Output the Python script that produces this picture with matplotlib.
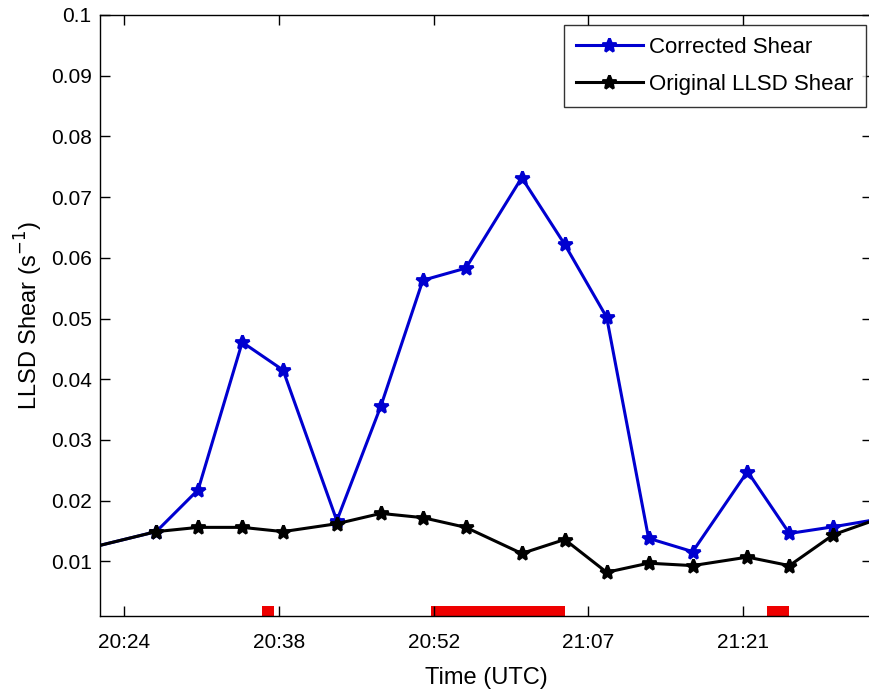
import numpy as np
import matplotlib
matplotlib.use('Agg')
import matplotlib.pyplot as plt

plt.rcParams['font.family'] = ['Liberation Sans', 'DejaVu Sans']

# time in minutes after 20:00 UTC
t = [21.0, 27.0, 30.9, 35.0, 38.8, 43.8, 47.9, 51.8, 55.8, 61.0, 65.0,
     68.9, 72.8, 76.9, 82.0, 85.9, 90.0, 94.0]
corrected = [0.0123, 0.0149, 0.0218, 0.0461, 0.0415, 0.0167, 0.0356, 0.0563,
             0.0583, 0.0732, 0.0622, 0.0502, 0.0138, 0.0116, 0.0248, 0.0146,
             0.0157, 0.0169]
original = [0.0123, 0.0149, 0.0156, 0.0156, 0.0149, 0.0162, 0.0179, 0.0172,
            0.0156, 0.0113, 0.0136, 0.0082, 0.0097, 0.0093, 0.0107, 0.0093,
            0.0144, 0.0169]

# red periods along the bottom (start, end in minutes after 20:00)
periods = [(36.8, 38.0), (52.6, 65.0), (83.8, 85.9)]

xticks = [24.0, 38.4, 52.8, 67.2, 81.6]
xlabels = ['20:24', '20:38', '20:52', '21:07', '21:21']
yticks = [0.01, 0.02, 0.03, 0.04, 0.05, 0.06, 0.07, 0.08, 0.09, 0.1]
ylabels = ['0.01', '0.02', '0.03', '0.04', '0.05', '0.06', '0.07', '0.08', '0.09', '0.1']

W, H = 870, 690
fig = plt.figure(figsize=(W / 100, H / 100), dpi=100)
ax = fig.add_axes([100 / W, (H - 616) / H, 772 / W, 601 / H])

ax.plot(t, corrected, '-*', color='#0000d0', lw=2.2, ms=10, mew=2,
        label='Corrected Shear')
ax.plot(t, original, '-*', color='black', lw=2.2, ms=10, mew=2,
        label='Original LLSD Shear')

ymin = 0.001
for a, b in periods:
    ax.bar(a, 0.0017, width=b - a, bottom=ymin, align='edge',
           color='#ee0000', edgecolor='none', zorder=1)

ax.set_xlim(21.77, 24 + 748 / 10.75)
ax.set_ylim(ymin, 0.1)
ax.set_xticks(xticks)
ax.set_xticklabels(xlabels)
ax.set_yticks(yticks)
ax.set_yticklabels(ylabels)
ax.tick_params(direction='in', length=7, width=1, labelsize=15,
               top=True, right=True, pad=6)
ax.tick_params(axis='x', pad=12)
for s in ax.spines.values():
    s.set_linewidth(1)

ax.set_xlabel('Time (UTC)', fontsize=17, labelpad=11)
ax.set_ylabel('LLSD Shear (s$^{-1}$)', fontsize=17, labelpad=4)

leg = ax.legend(loc='upper right', bbox_to_anchor=(866 / W, (H - 25) / H),
                bbox_transform=fig.transFigure, borderaxespad=0,
                fontsize=16, frameon=True, fancybox=False, edgecolor='black',
                handlelength=3.0, handletextpad=0.3, borderpad=0.55,
                labelspacing=0.7)
leg.get_frame().set_linewidth(1)

fig.savefig('out.png', dpi=100)
